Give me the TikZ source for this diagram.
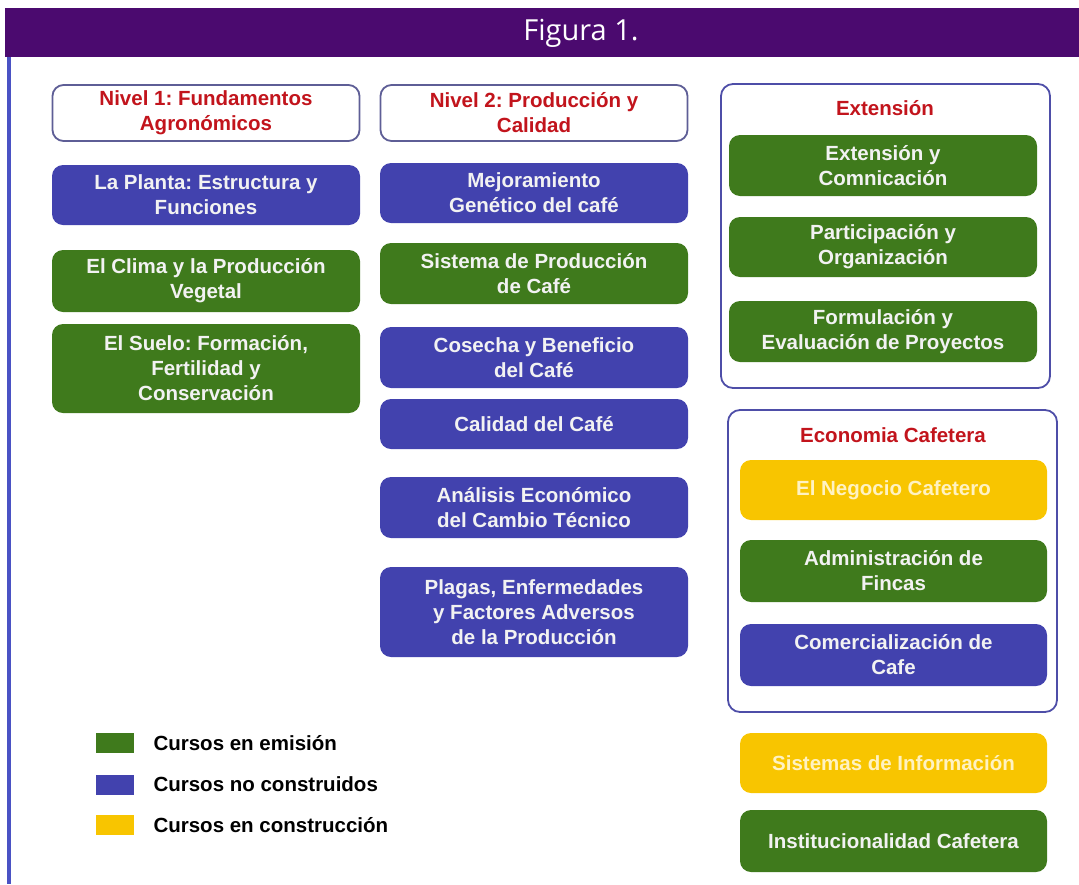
\documentclass[tikz,border=0pt]{standalone}
\usepackage{fontspec}
\setmainfont{Liberation Sans}
\newfontfamily\headfont{Open Sans}
\frenchspacing
\definecolor{barpurple}{HTML}{4B0A6F}
\definecolor{edgeblue}{HTML}{4A52C4}
\definecolor{framecol}{HTML}{4E4EA8}
\definecolor{nivelcol}{HTML}{5E5E96}
\definecolor{cgreen}{HTML}{3F7A1C}
\definecolor{cblue}{HTML}{4242AE}
\definecolor{cyellow}{HTML}{F8C500}
\definecolor{tred}{HTML}{C2141C}
\definecolor{paleyel}{HTML}{FFF2C2}
\begin{document}
\begin{tikzpicture}[x=1pt,y=-1pt,
    course/.style={rounded corners=11pt,minimum width=308pt,text=white!95!black,
      font=\bfseries\fontsize{20.5}{25}\selectfont,align=center,inner sep=0pt},
    green/.style={course,fill=cgreen},
    blue/.style={course,fill=cblue},
    yellow/.style={course,fill=cyellow,text=paleyel},
    nivel/.style={draw=nivelcol,line width=1.8pt,fill=white,rounded corners=11pt,
      minimum width=307pt,minimum height=56pt,text=tred,
      font=\bfseries\fontsize{20.5}{25}\selectfont,align=center,inner sep=0pt},
    group/.style={draw=framecol,line width=1.8pt,rounded corners=12pt,inner sep=0pt},
    grouptitle/.style={text=tred,font=\bfseries\fontsize{20.5}{25}\selectfont},
    legsq/.style={minimum width=38pt,minimum height=20pt,inner sep=0pt},
    legtext/.style={anchor=west,font=\bfseries\fontsize{20.5}{25}\selectfont}]
  \useasboundingbox (0,0) rectangle (1079,884);
  % header and left edge
  \fill[barpurple] (5,8) rectangle (1079,57);
  \draw[edgeblue,line width=4pt] (9,57) -- (9,884);
  \node[text=white,font=\headfont\fontsize{29}{34}\selectfont] (fig) at (581,33) {Figura 1.};
  % nivel 1
  \draw
    (206,113) node[nivel] (n1){Nivel 1: Fundamentos\\Agronómicos}
    (206,195) node[blue,minimum height=60pt] (planta){La Planta: Estructura y\\Funciones}
    (206,281) node[green,minimum height=62pt] (clima){El Clima y la Producción\\Vegetal}
    (206,368.5) node[green,minimum height=89pt] (suelo){El Suelo: Formación,\\Fertilidad y\\Conservación};
  % nivel 2
  \draw
    (534,113) node[nivel] (n2){Nivel 2: Producción y\\Calidad}
    (534,193) node[blue,minimum height=60pt] (mejora){Mejoramiento\\Genético del café}
    (534,273.5) node[green,minimum height=61pt] (sistema){Sistema de Producción\\de Café}
    (534,357.5) node[blue,minimum height=61pt] (cosecha){Cosecha y Beneficio\\del Café}
    (534,424) node[blue,minimum height=50pt] (calidad){Calidad del Café}
    (534,507.5) node[blue,minimum height=61pt] (analisis){Análisis Económico\\del Cambio Técnico}
    (534,612) node[blue,minimum height=90pt] (plagas){Plagas, Enfermedades\\y Factores Adversos\\de la Producción};
  % extension
  \draw
    (885.5,236) node[group,minimum width=329pt,minimum height=304pt] (ext){}
    (885,108) node[grouptitle] (extt){Extensión}
    (883,165.5) node[green,minimum height=61pt] (comunica){Extensión y\\Comnicación}
    (883,247) node[green,minimum height=60pt] (partic){Participación y\\Organización}
    (883,331.5) node[green,minimum height=61pt] (formula){Formulación y\\Evaluación de Proyectos};
  % economia cafetera
  \draw
    (892.5,561) node[group,minimum width=329pt,minimum height=302pt] (eco){}
    (893,435) node[grouptitle] (ecot){Economia Cafetera}
    (893.5,490) node[yellow,minimum width=307pt,minimum height=60pt] (negocio){El Negocio Cafetero}
    (893.5,571) node[green,minimum width=307pt,minimum height=62pt] (admin){Administración de\\Fincas}
    (893.5,655) node[blue,minimum width=307pt,minimum height=62pt] (comerc){Comercialización de\\Cafe}
    (893.5,763) node[yellow,minimum width=307pt,minimum height=60pt] (sisinfo){Sistemas de Información}
    (893.5,841) node[green,minimum width=307pt,minimum height=62pt] (instit){Institucionalidad Cafetera};
  % legend
  \draw
    (115,743) node[legsq,fill=cgreen] (lg){}
    (115,784.5) node[legsq,fill=cblue] (lb){}
    (115,825) node[legsq,fill=cyellow] (ly){}
    (150,743) node[legtext] (lgt){Cursos en emisión}
    (150,784.5) node[legtext] (lbt){Cursos no construidos}
    (150,825) node[legtext] (lyt){Cursos en construcción};
\end{tikzpicture}
\end{document}
